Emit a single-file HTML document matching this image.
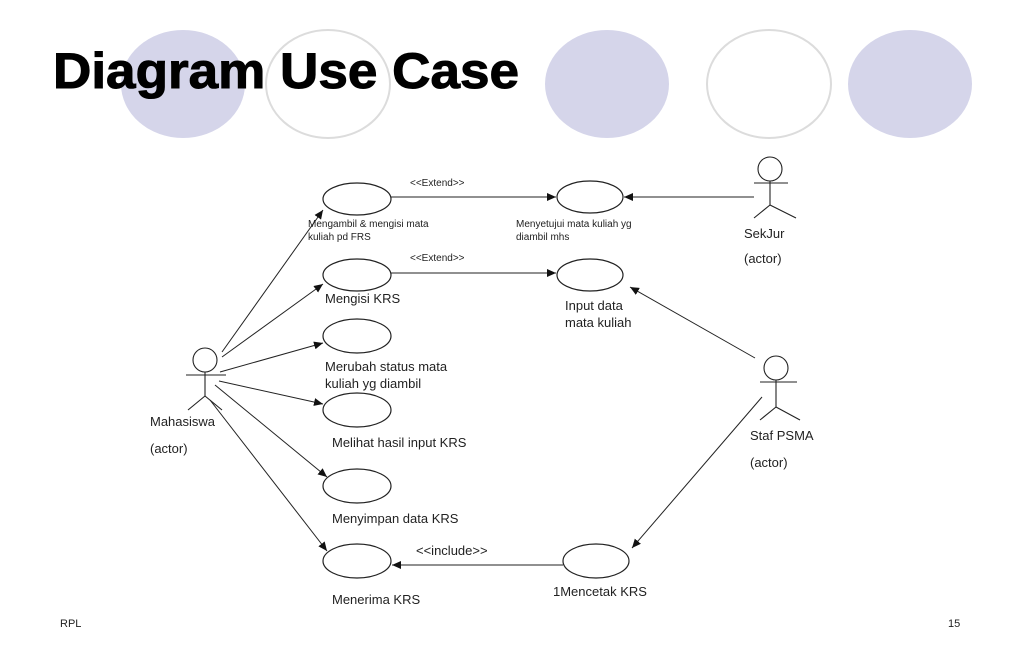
<!DOCTYPE html>
<html><head><meta charset="utf-8"><style>
html,body{margin:0;padding:0;background:#fff;}
svg{display:block;}
text{font-family:"Liberation Sans",sans-serif;}
</style></head><body>
<svg width="1024" height="669" viewBox="0 0 1024 669" xmlns="http://www.w3.org/2000/svg">
<defs>
<marker id="a" markerWidth="10" markerHeight="8" refX="9" refY="4" orient="auto" markerUnits="userSpaceOnUse">
<path d="M0,0 L9,4 L0,8 z" fill="#111"/></marker>
</defs>
<ellipse cx="183" cy="84" rx="62" ry="54" fill="#d5d5ea"/>
<ellipse cx="328" cy="84" rx="62" ry="54" fill="none" stroke="#dcdcdc" stroke-width="2"/>
<ellipse cx="607" cy="84" rx="62" ry="54" fill="#d5d5ea"/>
<ellipse cx="769" cy="84" rx="62" ry="54" fill="none" stroke="#dcdcdc" stroke-width="2"/>
<ellipse cx="910" cy="84" rx="62" ry="54" fill="#d5d5ea"/>
<text x="53" y="88" font-size="50" font-weight="bold" stroke="#000" stroke-width="1" textLength="466" lengthAdjust="spacingAndGlyphs">Diagram Use Case</text>

<g fill="#fff" stroke="#222" stroke-width="1.2">
<ellipse cx="357" cy="199" rx="34" ry="16"/>
<ellipse cx="357" cy="275" rx="34" ry="16"/>
<ellipse cx="357" cy="336" rx="34" ry="17"/>
<ellipse cx="357" cy="410" rx="34" ry="17"/>
<ellipse cx="357" cy="486" rx="34" ry="17"/>
<ellipse cx="357" cy="561" rx="34" ry="17"/>
<ellipse cx="590" cy="197" rx="33" ry="16"/>
<ellipse cx="590" cy="275" rx="33" ry="16"/>
<ellipse cx="596" cy="561" rx="33" ry="17"/>
</g>
<g stroke="#222" stroke-width="1.1" fill="none">
<circle cx="205" cy="360" r="12"/>
<line x1="205" y1="372" x2="205" y2="396"/><line x1="186" y1="375" x2="226" y2="375"/>
<line x1="205" y1="396" x2="188" y2="410"/><line x1="205" y1="396" x2="222" y2="410"/>
<circle cx="770" cy="169" r="12"/>
<line x1="770" y1="181" x2="770" y2="205"/><line x1="754" y1="183" x2="788" y2="183"/>
<line x1="770" y1="205" x2="754" y2="218"/><line x1="770" y1="205" x2="796" y2="218"/>
<circle cx="776" cy="368" r="12"/>
<line x1="776" y1="380" x2="776" y2="407"/><line x1="760" y1="382" x2="797" y2="382"/>
<line x1="776" y1="407" x2="760" y2="420"/><line x1="776" y1="407" x2="800" y2="420"/>
</g>
<g stroke="#222" stroke-width="1" marker-end="url(#a)">
<line x1="222" y1="352" x2="323" y2="210"/>
<line x1="222" y1="357" x2="323" y2="284"/>
<line x1="220" y1="372" x2="323" y2="343"/>
<line x1="219" y1="381" x2="323" y2="404"/>
<line x1="215" y1="385" x2="327" y2="477"/>
<line x1="210" y1="400" x2="327" y2="551"/>
<line x1="391" y1="197" x2="556" y2="197"/>
<line x1="391" y1="273" x2="556" y2="273"/>
<line x1="754" y1="197" x2="624" y2="197"/>
<line x1="755" y1="358" x2="630" y2="287"/>
<line x1="762" y1="397" x2="632" y2="548"/>
<line x1="563" y1="565" x2="392" y2="565"/>
</g>
<g fill="#222">
<text x="410" y="186" font-size="10">&lt;&lt;Extend&gt;&gt;</text>
<text x="410" y="261" font-size="10">&lt;&lt;Extend&gt;&gt;</text>
<text x="416" y="555" font-size="13">&lt;&lt;include&gt;&gt;</text>
<text x="308" y="227" font-size="10">Mengambil &amp; mengisi mata</text>
<text x="308" y="240" font-size="10">kuliah pd FRS</text>
<text x="516" y="227" font-size="10">Menyetujui mata kuliah yg</text>
<text x="516" y="240" font-size="10">diambil mhs</text>
<text x="325" y="303" font-size="13">Mengisi KRS</text>
<text x="565" y="310" font-size="13">Input data</text>
<text x="565" y="327" font-size="13">mata kuliah</text>
<text x="325" y="371" font-size="13">Merubah status mata</text>
<text x="325" y="388" font-size="13">kuliah yg diambil</text>
<text x="332" y="447" font-size="13">Melihat hasil input KRS</text>
<text x="332" y="523" font-size="13">Menyimpan data KRS</text>
<text x="332" y="604" font-size="13">Menerima KRS</text>
<text x="553" y="596" font-size="13">1Mencetak KRS</text>
<text x="150" y="426" font-size="13">Mahasiswa</text>
<text x="150" y="453" font-size="13">(actor)</text>
<text x="744" y="238" font-size="13">SekJur</text>
<text x="744" y="263" font-size="13">(actor)</text>
<text x="750" y="440" font-size="13">Staf PSMA</text>
<text x="750" y="467" font-size="13">(actor)</text>
<text x="60" y="627" font-size="11">RPL</text>
<text x="948" y="627" font-size="11">15</text>
</g>
</svg>
</body></html>
